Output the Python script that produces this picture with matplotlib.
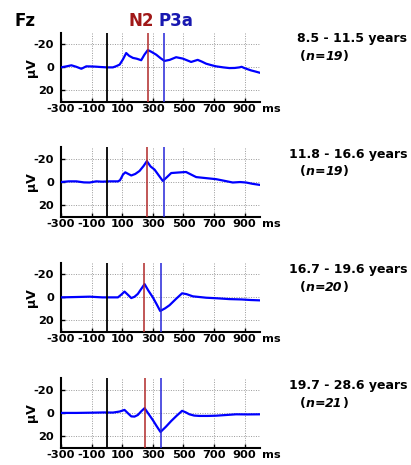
import matplotlib
matplotlib.use("Agg")
import matplotlib.pyplot as plt
from matplotlib.offsetbox import TextArea, HPacker, AnnotationBbox

plt.rcParams['font.family'] = ['DejaVu Sans']

# ---------------- data ----------------
t1 = [-300, -260, -232, -200, -167, -135, -100, -70, -40, 0, 39, 60, 83, 105, 126, 145, 170, 195,
      224, 245, 267, 290, 322, 350, 376, 410, 452, 496, 550, 593, 620, 648, 680, 713, 760, 800,
      835, 865, 880, 898, 941, 970, 1000]
v1 = [0, -1, -1.8, -0.5, 1.2, -0.9, -0.8, -0.6, -0.3, 0, 0, -1, -2.4, -7, -12.4, -10, -8.2, -7.5,
      -6.2, -11, -15, -13.5, -11, -8, -5.6, -6.5, -8.8, -7.6, -4.7, -6.5, -5, -3.2, -2, -0.9, 0, 0.6,
      0.5, 0, -0.5, 0.6, 2.6, 3.6, 4.7]

t2 = [-300, -250, -200, -150, -113, -70, -30, 17, 72, 85, 93, 105, 120, 140, 159, 185, 213, 240,
      261, 285, 311, 340, 365, 390, 420, 470, 517, 550, 583, 640, 713, 770, 822, 870, 909, 950, 1000]
v2 = [0, -0.6, -0.6, 0.3, 0.4, -0.6, -0.3, -0.6, -0.6, -1.5, -3.4, -6.5, -8.4, -7, -5.7, -7, -9.6, -14,
      -18.1, -13.5, -10.8, -5.5, -1, -4, -7.8, -8.3, -8.7, -6.5, -4.3, -3.5, -2.5, -1, 0.4, 0, 0.4, 1.5, 2.5]

t3 = [-300, -200, -113, -30, 72, 95, 115, 135, 159, 180, 202, 225, 246, 270, 300, 325, 348, 380,
      409, 450, 491, 520, 561, 648, 720, 800, 880, 940, 1000]
v3 = [0, -0.3, -0.6, 0, 0, -2.5, -5, -2.5, 0.6, -0.5, -3, -7.5, -11.5, -6, 0, 6, 11.8, 9.5,
      6.8, 1.5, -3.5, -2.8, -0.9, 0.3, 0.8, 1.5, 1.8, 2.3, 2.6]

t4 = [-300, -200, -100, -20, 40, 83, 115, 135, 159, 180, 202, 225, 246, 270, 300, 325, 350, 385,
      420, 455, 491, 515, 539, 570, 604, 660, 713, 780, 843, 920, 1000]
v4 = [0, 0, -0.2, -0.4, -0.3, -1.2, -2.6, 0, 3, 3.2, 1.8, -1.5, -4.1, 0.5, 6.2, 11.5, 16.5, 12,
      7, 2.5, -1.8, -0.5, 1.2, 2.3, 2.6, 2.6, 2.4, 1.8, 1.2, 1.3, 1.2]

times = [t1, t2, t3, t4]
values = [v1, v2, v3, v4]
n2_lat = [267, 261, 241, 248]
p3a_lat = [372, 372, 350, 350]
age_labels = ["8.5 - 11.5 years", "11.8 - 16.6 years", "16.7 - 19.6 years", "19.7 - 28.6 years"]
n_values = ["19", "19", "20", "21"]
xticks = [-300, -100, 100, 300, 500, 700, 900]
yticks = [-20, 0, 20]

# ---------------- figure ----------------
W, H = 411, 465
fig = plt.figure(figsize=(W / 100, H / 100), dpi=100)

ax_left = 61 / W
ax_w = 199 / W
ax_h = 0.149
bottoms = [0.7806, 0.534, 0.286, 0.0375]
tops_px = [32, 147.7, 263.3, 379]

red = '#B02828'
blue = '#0000FF'
mblue = '#2424D8'

for i in range(4):
    ax = fig.add_axes([ax_left, bottoms[i], ax_w, ax_h])
    ax.plot(times[i], values[i], color=blue, lw=1.6, zorder=3)
    ax.axvline(0, color='black', lw=1.3, zorder=4)
    ax.axvline(n2_lat[i], color=red, lw=1.1, zorder=4)
    ax.axvline(p3a_lat[i], color=mblue, lw=1.1, zorder=4)
    ax.set_xlim(-300, 1000)
    ax.set_ylim(30, -30)
    ax.set_xticks(xticks)
    ax.set_yticks(yticks)
    ax.set_xticklabels([str(x) for x in xticks], fontweight='bold', fontsize=8.2)
    ax.set_yticklabels([str(y) for y in yticks], fontweight='bold', fontsize=8.2)
    ax.tick_params(axis='x', direction='in', length=3, width=1, pad=1.5)
    ax.tick_params(axis='y', direction='in', length=3, width=1, pad=5)
    ax.grid(True, linestyle=(0, (1, 1.5)), color='#999999', lw=0.7)
    for s in ['top', 'right']:
        ax.spines[s].set_visible(False)
    for s in ['left', 'bottom']:
        ax.spines[s].set_linewidth(1.5)
    ax.set_ylabel('μV', fontweight='bold', fontsize=9)
    ax.yaxis.set_label_coords(-0.118, 0.5)
    ax.annotate('ms', xy=(1.0, 0.0), xycoords='axes fraction', xytext=(1.5, -1.5),
                textcoords='offset points', ha='left', va='top', fontweight='bold', fontsize=8.2)

    # right-hand labels
    top = tops_px[i]
    fig.text(407 / W, 1 - (top + 6.5) / H, age_labels[i], ha='right', va='center',
             fontweight='bold', fontsize=9)
    parts = [TextArea('(', textprops=dict(fontweight='bold', fontsize=9)),
             TextArea('n', textprops=dict(fontweight='bold', style='italic', fontsize=9)),
             TextArea('=', textprops=dict(fontweight='bold', fontsize=9)),
             TextArea(n_values[i], textprops=dict(fontweight='bold', style='italic', fontsize=9)),
             TextArea(')', textprops=dict(fontweight='bold', fontsize=9))]
    box = HPacker(children=parts, align='baseline', pad=0, sep=0)
    ab = AnnotationBbox(box, (300 / W, 1 - (top + 24) / H), xycoords='figure fraction',
                        box_alignment=(0, 0.5), frameon=False, pad=0)
    fig.add_artist(ab)

fig.text(15 / W, 1 - 21 / H, 'Fz', ha='left', va='center', fontweight='bold', fontsize=12)
fig.text(128 / W, 1 - 21 / H, 'N2', ha='left', va='center', fontweight='bold', fontsize=12, color='#A01818')
fig.text(158 / W, 1 - 21 / H, 'P3a', ha='left', va='center', fontweight='bold', fontsize=12, color='#1818B0')

fig.savefig('out.png', dpi=100)
